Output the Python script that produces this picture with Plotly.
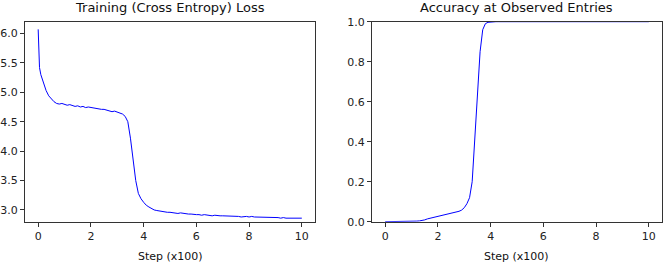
import plotly.graph_objects as go

steps = [0.0, 0.02, 0.05] + [round(0.1 * i, 1) for i in range(1, 101)]

loss = [6.07, 5.60, 5.42,
        5.30, 5.15, 5.03, 4.94, 4.88, 4.84, 4.81, 4.80, 4.81, 4.79,
        4.78, 4.79, 4.77, 4.76, 4.77, 4.75, 4.76, 4.74, 4.75, 4.74,
        4.73, 4.73, 4.72, 4.71, 4.71, 4.70, 4.69, 4.67, 4.68, 4.66,
        4.64, 4.63, 4.59, 4.50, 4.22, 3.88, 3.50, 3.28, 3.19, 3.13,
        3.08, 3.05, 3.02, 3.00, 2.99, 2.98, 2.98, 2.97, 2.96, 2.96,
        2.95, 2.95, 2.94, 2.95, 2.94, 2.93, 2.93, 2.93, 2.92, 2.92,
        2.92, 2.91, 2.92, 2.91, 2.91, 2.90, 2.91, 2.90, 2.90, 2.90,
        2.90, 2.89, 2.90, 2.89, 2.89, 2.89, 2.88, 2.89, 2.89, 2.88,
        2.89, 2.88, 2.88, 2.87, 2.88, 2.87, 2.87, 2.88, 2.87, 2.87,
        2.87, 2.86, 2.87, 2.86, 2.86, 2.86, 2.86, 2.85, 2.86, 2.86]

accuracy = [0.0, 0.0, 0.0,
            0.0, 0.0, 0.0, 0.0, 0.0, 0.0, 0.0, 0.0, 0.001, 0.001,
            0.002, 0.003, 0.004, 0.006, 0.009, 0.014, 0.017, 0.020, 0.024, 0.028,
            0.031, 0.034, 0.037, 0.039, 0.042, 0.045, 0.048, 0.052, 0.058, 0.070,
            0.090, 0.120, 0.200, 0.420, 0.660, 0.850, 0.960, 0.990, 0.997, 0.999,
            1.0, 1.0, 1.0, 1.0, 1.0, 1.0, 1.0, 1.0, 1.0, 1.0,
            1.0, 1.0, 1.0, 1.0, 1.0, 1.0, 1.0, 1.0, 1.0, 1.0,
            1.0, 1.0, 1.0, 1.0, 1.0, 1.0, 1.0, 1.0, 1.0, 1.0,
            1.0, 1.0, 1.0, 1.0, 1.0, 1.0, 1.0, 1.0, 1.0, 1.0,
            1.0, 1.0, 1.0, 1.0, 1.0, 1.0, 1.0, 1.0, 1.0, 1.0,
            1.0, 1.0, 1.0, 1.0, 1.0, 1.0, 1.0, 1.0, 1.0, 1.0]

titles = ["Training (Cross Entropy) Loss", "Accuracy at Observed Entries"]
x_label = "Step (x100)"
x_ticks = [0, 2, 4, 6, 8, 10]
loss_ticks = [3.0, 3.5, 4.0, 4.5, 5.0, 5.5, 6.0]
acc_ticks = [0.0, 0.2, 0.4, 0.6, 0.8, 1.0]

W, H = 664, 266
font = "DejaVu Sans"
dom1 = [25 / W, 315 / W]
dom2 = [372 / W, 662 / W]
ydom = [1 - 221.7 / H, 1 - 21.7 / H]

fig = go.Figure()
fig.add_trace(go.Scatter(x=steps, y=loss, mode="lines",
                         line=dict(color="#0000ff", width=1), xaxis="x", yaxis="y"))
fig.add_trace(go.Scatter(x=steps, y=accuracy, mode="lines",
                         line=dict(color="#0000ff", width=1), xaxis="x2", yaxis="y2"))

axis_common = dict(showgrid=False, zeroline=False, showline=True, mirror=True,
                   linecolor="#333333", linewidth=1, ticks="outside", ticklen=4,
                   tickcolor="#333333", tickwidth=1, automargin=False,
                   tickfont=dict(family=font, size=11, color="#222222"))

fig.update_layout(
    width=W, height=H, margin=dict(l=0, r=0, t=0, b=0),
    paper_bgcolor="white", plot_bgcolor="white", showlegend=False,
    xaxis=dict(domain=dom1, range=[-0.5, 10.5], tickvals=x_ticks, anchor="y", **axis_common),
    yaxis=dict(domain=ydom, range=[2.80, 6.20], tickvals=loss_ticks, tickformat=".1f",
               anchor="x", **axis_common),
    xaxis2=dict(domain=dom2, range=[-0.5, 10.5], tickvals=x_ticks, anchor="y2", **axis_common),
    yaxis2=dict(domain=ydom, range=[0, 1], tickvals=acc_ticks, tickformat=".1f",
                anchor="x2", **axis_common),
)

for dom, t in zip([dom1, dom2], titles):
    cx = (dom[0] + dom[1]) / 2
    fig.add_annotation(x=cx, y=1 - 7.5 / H, xref="paper", yref="paper", text=t,
                       showarrow=False, xanchor="center", yanchor="middle",
                       font=dict(family=font, size=13, color="#111111"))
    fig.add_annotation(x=cx, y=1 - 256.5 / H, xref="paper", yref="paper", text=x_label,
                       showarrow=False, xanchor="center", yanchor="middle",
                       font=dict(family=font, size=11, color="#111111"))

fig.write_html("out.html", config={"displayModeBar": False},
               post_script="document.body.style.margin='0';document.body.style.overflow='hidden';")
